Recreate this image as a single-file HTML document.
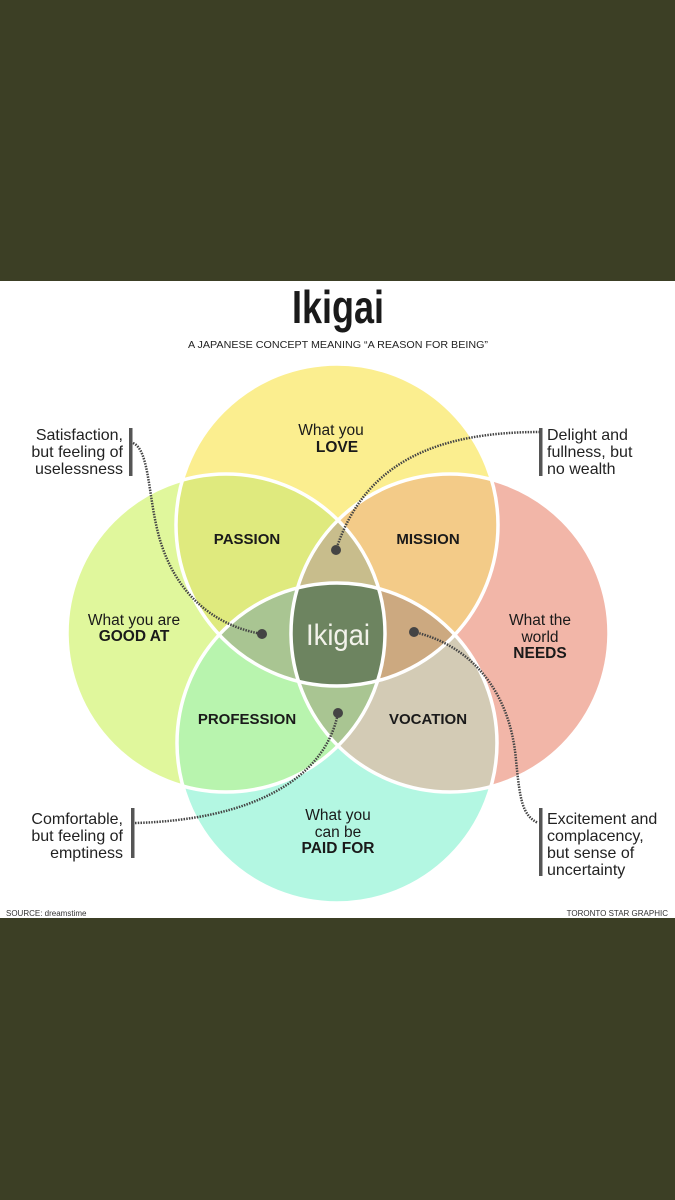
<!DOCTYPE html>
<html><head><meta charset="utf-8"><style>
html,body{margin:0;padding:0;background:#3c3f25;}
svg{display:block}
</style></head><body>
<svg width="675" height="1200" viewBox="0 0 675 1200" xmlns="http://www.w3.org/2000/svg" font-family="Liberation Sans, sans-serif">
<rect x="0" y="0" width="675" height="1200" fill="#3c3f25"/>
<rect x="0" y="281" width="675" height="637" fill="#ffffff"/>
<defs>
<clipPath id="cT"><circle cx="337" cy="525" r="161"/></clipPath>
<clipPath id="cL"><circle cx="226" cy="633" r="159"/></clipPath>
<clipPath id="cR"><circle cx="450" cy="633" r="159"/></clipPath>
<clipPath id="cB"><circle cx="337" cy="743" r="160"/></clipPath>
</defs>
<circle cx="337" cy="525" r="161" fill="#fbee8f"/>
<circle cx="226" cy="633" r="159" fill="#e0f79c"/>
<circle cx="450" cy="633" r="159" fill="#f2b6a8"/>
<circle cx="337" cy="743" r="160" fill="#b3f7e2"/>
<g clip-path="url(#cT)"><circle cx="226" cy="633" r="159" fill="#dfea7e"/></g>
<g clip-path="url(#cT)"><circle cx="450" cy="633" r="159" fill="#f3cb88"/></g>
<g clip-path="url(#cB)"><circle cx="226" cy="633" r="159" fill="#b8f4ae"/></g>
<g clip-path="url(#cB)"><circle cx="450" cy="633" r="159" fill="#d3cbb5"/></g>
<g clip-path="url(#cT)"><g clip-path="url(#cL)"><circle cx="450" cy="633" r="159" fill="#c8bd8c"/></g></g>
<g clip-path="url(#cB)"><g clip-path="url(#cL)"><circle cx="450" cy="633" r="159" fill="#a9c592"/></g></g>
<g clip-path="url(#cT)"><g clip-path="url(#cL)"><circle cx="337" cy="743" r="160" fill="#a9c592"/></g></g>
<g clip-path="url(#cT)"><g clip-path="url(#cR)"><circle cx="337" cy="743" r="160" fill="#cca980"/></g></g>
<g clip-path="url(#cT)"><g clip-path="url(#cL)"><g clip-path="url(#cR)"><circle cx="337" cy="743" r="160" fill="#6d8460"/></g></g></g>
<g fill="none" stroke="#ffffff" stroke-width="3.5">
<circle cx="337" cy="525" r="161"/>
<circle cx="226" cy="633" r="159"/>
<circle cx="450" cy="633" r="159"/>
<circle cx="337" cy="743" r="160"/>
</g>
<text x="338" y="323" font-size="46" font-weight="bold" fill="#1a1a1a" text-anchor="middle" textLength="92" lengthAdjust="spacingAndGlyphs">Ikigai</text>
<text x="338" y="348" font-size="10.5" fill="#222" text-anchor="middle" textLength="300" lengthAdjust="spacingAndGlyphs">A JAPANESE CONCEPT MEANING “A REASON FOR BEING”</text>
<g font-size="15.5" fill="#1a1a1a" text-anchor="middle">
<text x="331" y="435">What you</text>
<text x="337" y="452" font-weight="bold">LOVE</text>
<text x="134" y="625">What you are</text>
<text x="134" y="641" font-weight="bold">GOOD AT</text>
<text x="540" y="625">What the</text>
<text x="540" y="642">world</text>
<text x="540" y="658" font-weight="bold">NEEDS</text>
<text x="338" y="820">What you</text>
<text x="338" y="837">can be</text>
<text x="338" y="853" font-weight="bold">PAID FOR</text>
<g font-weight="bold" font-size="15">
<text x="247" y="544">PASSION</text>
<text x="428" y="544">MISSION</text>
<text x="247" y="724">PROFESSION</text>
<text x="428" y="724">VOCATION</text>
</g>
</g>
<text x="338" y="645" font-size="30" fill="#f2f2ea" text-anchor="middle" textLength="64" lengthAdjust="spacingAndGlyphs">Ikigai</text>
<g font-size="16" fill="#222">
<g text-anchor="end">
<text x="123" y="440">Satisfaction,</text>
<text x="123" y="457">but feeling of</text>
<text x="123" y="474">uselessness</text>
<text x="123" y="824">Comfortable,</text>
<text x="123" y="841">but feeling of</text>
<text x="123" y="858">emptiness</text>
</g>
<text x="547" y="440">Delight and</text>
<text x="547" y="457">fullness, but</text>
<text x="547" y="474">no wealth</text>
<text x="547" y="824">Excitement and</text>
<text x="547" y="841">complacency,</text>
<text x="547" y="858">but sense of</text>
<text x="547" y="875">uncertainty</text>
</g>
<g fill="#555">
<rect x="129" y="428" width="3.5" height="48"/>
<rect x="539" y="428" width="3.5" height="48"/>
<rect x="131" y="808" width="3.5" height="50"/>
<rect x="539" y="808" width="3.5" height="68"/>
</g>
<g fill="none" stroke="#444" stroke-width="2.5" stroke-dasharray="1.5 1.2">
<path d="M133,443 C150,450 148,500 160,540 C175,590 210,625 262,634"/>
<path d="M540,432 C440,432 365,460 336,550"/>
<path d="M135,823 C250,820 325,780 338,713"/>
<path d="M414,632 C470,645 510,690 516,760 C520,800 522,815 538,823"/>
</g>
<g fill="#444">
<circle cx="262" cy="634" r="5"/>
<circle cx="336" cy="550" r="5"/>
<circle cx="338" cy="713" r="5"/>
<circle cx="414" cy="632" r="5"/>
</g>
<text x="6" y="916" font-size="8" fill="#333">SOURCE: dreamstime</text>
<text x="668" y="916" font-size="8" fill="#333" text-anchor="end">TORONTO STAR GRAPHIC</text>
</svg>
</body></html>
